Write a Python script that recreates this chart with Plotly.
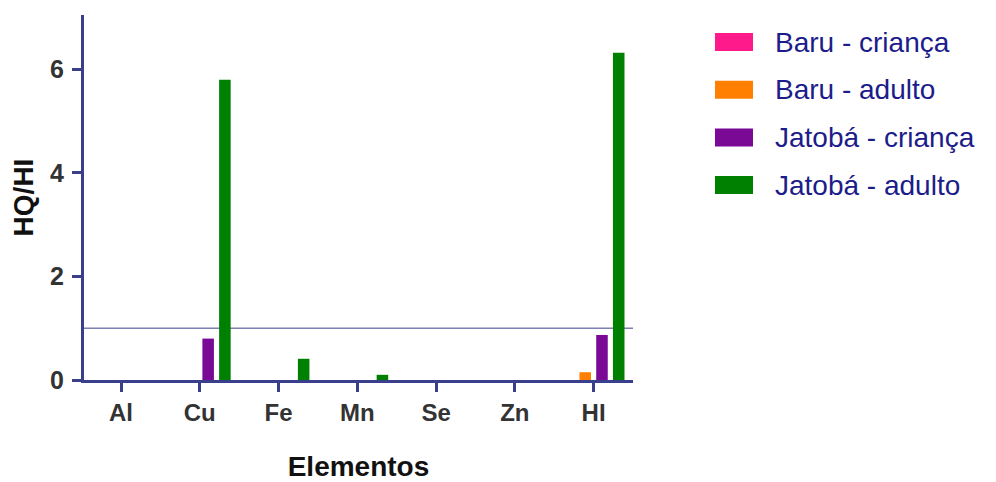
import plotly.graph_objects as go

categories = ["Al", "Cu", "Fe", "Mn", "Se", "Zn", "HI"]
baru_crianca = [0, 0, 0, 0, 0, 0, 0]
baru_adulto = [0, 0, 0, 0, 0, 0, 0.15]
jatoba_crianca = [0, 0.80, 0, 0, 0, 0, 0.87]
jatoba_adulto = [0, 5.80, 0.41, 0.10, 0, 0, 6.32]
series_names = ["Baru - criança", "Baru - adulto", "Jatobá - criança", "Jatobá - adulto"]
series_colors = ["#ff1a8c", "#ff8000", "#7a0a96", "#008000"]
y_ticks = [0, 2, 4, 6]
threshold = 1

AXIS = "#3a3f8c"
FONT = "Liberation Sans, Arial, sans-serif"
OFF = 8  # page body margin
W, H = 996 - OFF, 482 - OFF
ML, MT = 84 - OFF, 15 - OFF
PW, PH = 549, 365
MR, MB = W - ML - PW, H - MT - PH

fig = go.Figure()
for name, vals, col in zip(series_names, [baru_crianca, baru_adulto, jatoba_crianca, jatoba_adulto], series_colors):
    fig.add_trace(go.Bar(x=categories, y=vals, name=name, marker=dict(color=col, line=dict(width=0)),
                         showlegend=False))

fig.add_shape(type="line", xref="paper", yref="y", x0=0, x1=1, y0=threshold, y1=threshold,
              line=dict(color="#7d80b3", width=1.5), layer="below")

# legend drawn as swatches + text (reference pixel layout converted to paper coords)
def px_x(px):
    return (px - OFF - ML) / PW

def px_y(py):
    return (MT + PH - (py - OFF)) / PH

for i, (name, col) in enumerate(zip(series_names, series_colors)):
    cy = 42 + i * 47.7
    fig.add_shape(type="rect", xref="paper", yref="paper",
                  x0=px_x(715), x1=px_x(753), y0=px_y(cy + 9), y1=px_y(cy - 9),
                  fillcolor=col, line=dict(width=0))
    fig.add_annotation(xref="paper", yref="paper", x=px_x(773), y=px_y(cy),
                       xanchor="left", yanchor="middle", showarrow=False, text=name,
                       font=dict(size=28, color="#1c1c8a", family=FONT))

fig.update_layout(
    width=W, height=H,
    margin=dict(l=ML, r=MR, t=MT, b=MB),
    paper_bgcolor="white", plot_bgcolor="white",
    barmode="group", bargap=0.15, bargroupgap=0.31,
    font=dict(family=FONT),
    showlegend=False,
    xaxis=dict(range=[-0.47, 6.5], showline=True, linecolor=AXIS, linewidth=3,
               ticks="outside", ticklen=9, tickwidth=3, tickcolor=AXIS, automargin=False,
               tickfont=dict(size=24, color="#333333", family=FONT, weight="bold"),
               title=dict(text="<b>Elementos</b>", font=dict(size=28, color="#111111"), standoff=33),
               showgrid=False, zeroline=False),
    yaxis=dict(range=[0, 7.05], showline=True, linecolor=AXIS, linewidth=3,
               ticks="outside", ticklen=9, tickwidth=3, tickcolor=AXIS, automargin=False,
               tickvals=y_ticks, ticktext=[str(v) for v in y_ticks], ticklabelstandoff=3,
               tickfont=dict(size=25, color="#333333", family=FONT, weight="bold"),
               title=dict(text="<b>HQ/HI</b>", font=dict(size=28, color="#111111"), standoff=17),
               showgrid=False, zeroline=False),
)

fig.write_html("out.html")
